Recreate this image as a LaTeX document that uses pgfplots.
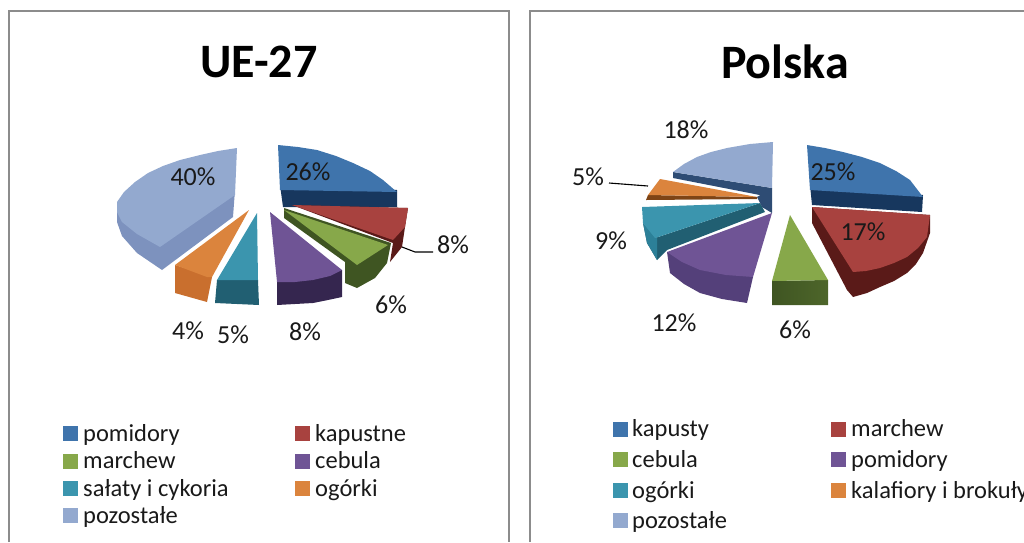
\documentclass[border=0pt]{standalone}
\usepackage{pgfplots}
\pgfplotsset{compat=1.18}
\usepackage{fontspec}
\setmainfont{Carlito}
\definecolor{bT}{HTML}{3F74AC}\definecolor{bS}{HTML}{17375E}
\definecolor{rT}{HTML}{A8423F}\definecolor{rS}{HTML}{5A1A18}
\definecolor{gT}{HTML}{87A84A}\definecolor{gS}{HTML}{3F5522}
\definecolor{pT}{HTML}{6F5495}\definecolor{pS}{HTML}{35264F}\definecolor{pM}{HTML}{54407A}
\definecolor{tT}{HTML}{3B95AE}\definecolor{tS}{HTML}{215F72}\definecolor{tM}{HTML}{2C8098}
\definecolor{oT}{HTML}{DB843D}\definecolor{oS}{HTML}{C96F2E}\definecolor{oD}{HTML}{7E4416}
\definecolor{lT}{HTML}{93A9CF}\definecolor{lS}{HTML}{7D92BE}\definecolor{lD}{HTML}{2E4C74}
\definecolor{frame}{HTML}{8C8C8C}
\newcommand\slice[2]{\addplot[fill=#1,draw=none,forget plot] coordinates {#2};}
\newcommand\hslice[3]{\addplot[left color=#1,right color=#2,draw=none,forget plot] coordinates {#3};}
\newcommand\key[3]{\addplot[only marks,color=#1,mark=square*,mark size=7pt,mark options={solid,fill=#1,draw=#1,line width=0pt},forget plot] coordinates {(#2,#3)};}
\newcommand\lab[3]{\node[anchor=base west,font=\fontsize{24.5}{25}\selectfont,text=black!90,inner sep=0pt] at (axis cs:#1,#2+8) {#3};}
\newcommand\pct[3]{\node[font=\fontsize{26}{26}\selectfont,text=black!90,inner sep=0pt] at (axis cs:#1,#2) {#3};}
\begin{document}
\begin{tikzpicture}
\clip (0,0) rectangle (1024pt,542pt);
\begin{axis}[axis lines=none,scale only axis,width=1024pt,height=542pt,
  xmin=0,xmax=1024,ymin=0,ymax=542,y dir=reverse,clip=false]
% frames
\addplot[frame,line width=1.6pt,forget plot] coordinates {(9,542)(9,11)(509,11)(509,542)};
\addplot[frame,line width=1.6pt,forget plot] coordinates {(530,542)(530,11)(1024,11)};
% UE-27
\slice{lS}{(117,202)(117,222)(122,236)(137,253)(162,270)(233,217)(235,190)(160,240)}
\slice{lT}{(237,148)(218,151)(200,155)(180,160)(163,166)(148,173)(135,182)(124,192)(117,202)(117,212)(122,222)(137,234)(160,247)(235,195)}
\slice{bS}{(280,185)(397,190)(397,207)(283,207)}
\slice{bT}{(278,145)(298,147)(317,150)(336,156)(353,163)(370,171)(383,180)(397,192)(280,190)}
\slice{rS}{(292,205)(408,208)(405,227)(402,247)(390,262)(393,243)}
\slice{rT}{(292,205)(408,208)(405,227)(393,240)}
\slice{gS}{(284,208)(284,218)(345,262)(345,283)(357,288)(375,278)(387,263)(391,243)}
\slice{gT}{(284,210)(388,245)(357,265)}
\slice{pS}{(277,282)(342,270)(342,297)(328,300)(313,303)(295,304)(277,305)}
\slice{pT}{(270,212)(342,270)(330,276)(313,280)(295,282)(277,282)}
\slice{tS}{(217,280)(258,280)(259,305)(215,303)}
\slice{tT}{(257,213)(258,280)(217,280)}
\slice{oS}{(175,265)(212,277)(207,302)(175,293)}
\slice{oT}{(249,210)(212,277)(207,277)(175,265)}
\addplot[black,line width=1.1pt,forget plot] coordinates {(402,247)(415,252)(433,252)};
\pct{308}{172}{26\%}\pct{193}{177}{40\%}\pct{453}{245}{8\%}\pct{391}{305}{6\%}
\pct{305}{332}{8\%}\pct{233}{335}{5\%}\pct{188}{331}{4\%}
\node[font=\bfseries\fontsize{48}{48}\selectfont,text=black] at (axis cs:259,62) {UE-27};
\key{bT}{70}{433}\key{rT}{302}{433}\key{gT}{70}{461}\key{pT}{302}{461}
\key{tT}{70}{488}\key{oT}{302}{488}\key{lT}{70}{515}
\lab{83}{433}{pomidory}\lab{315}{433}{kapustne}\lab{83}{460}{marchew}\lab{315}{460}{cebula}
\lab{83}{488}{sałaty i cykoria}\lab{315}{488}{ogórki}\lab{83}{515}{pozostałe}
% Polska
\slice{bS}{(810,185)(923,195)(922,212)(812,205)}
\slice{bT}{(807,145)(825,148)(843,152)(862,157)(880,163)(896,171)(910,180)(923,197)(810,190)}
\slice{rS}{(812,207)(812,223)(847,290)(853,297)(867,293)(880,287)(894,281)(907,273)(916,264)(923,253)(930,233)(930,215)}
\slice{rT}{(812,207)(930,215)(927,237)(918,248)(907,257)(894,263)(880,268)(866,271)(853,272)}
\hslice{gS}{gS!80!gT}{(772,281)(828,280)(828,305)(772,305)}
\slice{gT}{(790,215)(828,280)(772,281)}
\slice{pM}{(667,252)(670,273)(684,284)(700,293)(722,299)(747,303)(753,277)}
\slice{pT}{(772,213)(667,252)(682,262)(700,270)(726,275)(753,277)}
\slice{tS}{(643,223)(647,243)(657,260)(667,250)(765,212)(760,203)(655,238)}
\slice{tM}{(643,223)(647,243)(657,260)(657,238)}
\slice{tT}{(760,203)(642,207)(643,223)(655,238)}
\slice{lD}{(757,197)(772,188)(772,213)(762,207)}
\slice{lD}{(673,172)(673,178)(770,197)(772,188)}
\slice{lT}{(773,142)(750,144)(727,148)(711,152)(697,157)(684,164)(673,172)(772,188)}
\slice{oD}{(648,195)(646,200)(757,199)(757,197)}
\slice{oT}{(757,197)(660,179)(648,195)}
\addplot[black,line width=1.1pt,forget plot] coordinates {(609,183)(648,186)};
\pct{833}{172}{25\%}\pct{863}{232}{17\%}\pct{686}{130}{18\%}\pct{588}{177}{5\%}
\pct{611}{241}{9\%}\pct{674}{323}{12\%}\pct{795}{330}{6\%}
\node[font=\bfseries\fontsize{48}{48}\selectfont,text=black] at (axis cs:785,62) {Polska};
\key{bT}{620}{429}\key{rT}{838}{429}\key{gT}{620}{459}\key{pT}{838}{459}
\key{tT}{620}{490}\key{oT}{838}{490}\key{lT}{620}{520}
\lab{632}{428}{kapusty}\lab{851}{428}{marchew}\lab{632}{459}{cebula}\lab{851}{459}{pomidory}
\lab{632}{490}{ogórki}\lab{851}{490}{kalafiory i brokuły}\lab{632}{520}{pozostałe}
\end{axis}
\end{tikzpicture}
\end{document}
